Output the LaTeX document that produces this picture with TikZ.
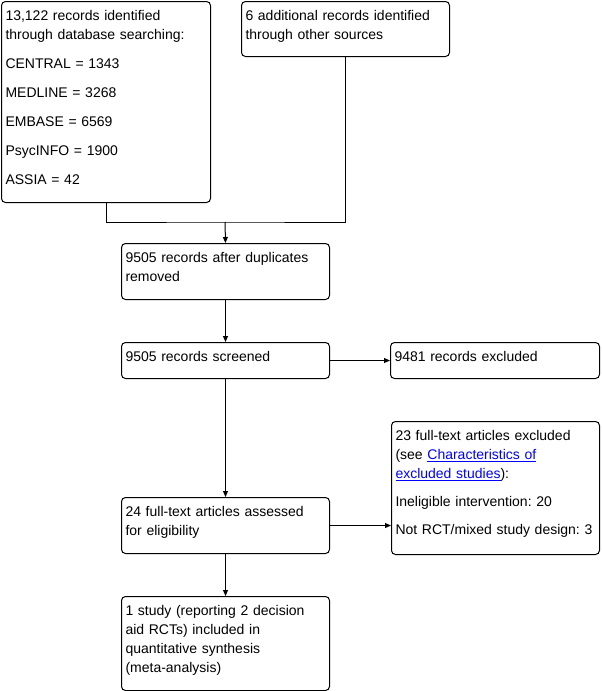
\documentclass[tikz,border=0pt]{standalone}
\usepackage{fontspec}
\setmainfont{Liberation Sans}
\usetikzlibrary{arrows.meta, positioning, calc}
\definecolor{linkblue}{RGB}{0,0,255}
\frenchspacing

\begin{document}
\begin{tikzpicture}[x=1pt, y=-1pt, font=\fontsize{14}{19}\selectfont,
    box/.style={draw, line width=1pt, rounded corners=4pt, anchor=north west, align=left,
        inner xsep=4pt, inner ysep=4pt, text height=15pt},
    arr/.style={-{Triangle[length=6pt, width=5pt]}, line width=1pt}]
    \useasboundingbox (0,0) rectangle (602,691);
    \node[box, text width=201pt, text depth=178pt] (db) at (1,1) {13,122 records identified\\through database searching:\\[10pt]CENTRAL = 1343\\[10pt]MEDLINE = 3268\\[10pt]EMBASE = 6569\\[10pt]PsycINFO = 1900\\[10pt]ASSIA = 42};
    \node[box, text width=200pt, text depth=32pt] (other) at (241,1) {6 additional records identified\\through other sources};
    \node[box, text width=200pt, text depth=33pt] (dup) at (121,243) {9505 records after duplicates\\removed};
    \node[box, text width=200pt, text depth=13pt] (screen) at (121,342) {9505 records screened};
    \node[box, text width=201pt, text depth=13pt] (excl) at (390,342) {9481 records excluded};
    \node[box, text width=200pt, text depth=110pt] (fullexcl) at (391,421) {23 full-text articles excluded\\(see \textcolor{linkblue}{\underline{Characteristics of}}\\\textcolor{linkblue}{\underline{excluded studies}}):\\[9pt]Ineligible intervention: 20\\[9pt]Not RCT/mixed study design: 3};
    \node[box, text width=200pt, text depth=33pt] (full) at (121,497) {24 full-text articles assessed\\for eligibility};
    \node[box, text width=200pt, text depth=71pt] (incl) at (121,596) {1 study (reporting 2 decision\\aid RCTs) included in\\quantitative synthesis\\(meta-analysis)};
    \coordinate (merge) at (225,222);
    \draw[line width=1pt] (db.south) |- (merge) -| (other.south);
    \draw[arr] (merge) -- (dup.north);
    \draw[arr] (dup.south) -- (screen.north);
    \draw[arr] (screen.east) -- (excl.west);
    \draw[arr] (screen.south) -- (full.north);
    \draw[arr] (full.east) -- (full.east -| fullexcl.west);
    \draw[arr] (full.south) -- (incl.north);
\end{tikzpicture}
\end{document}
